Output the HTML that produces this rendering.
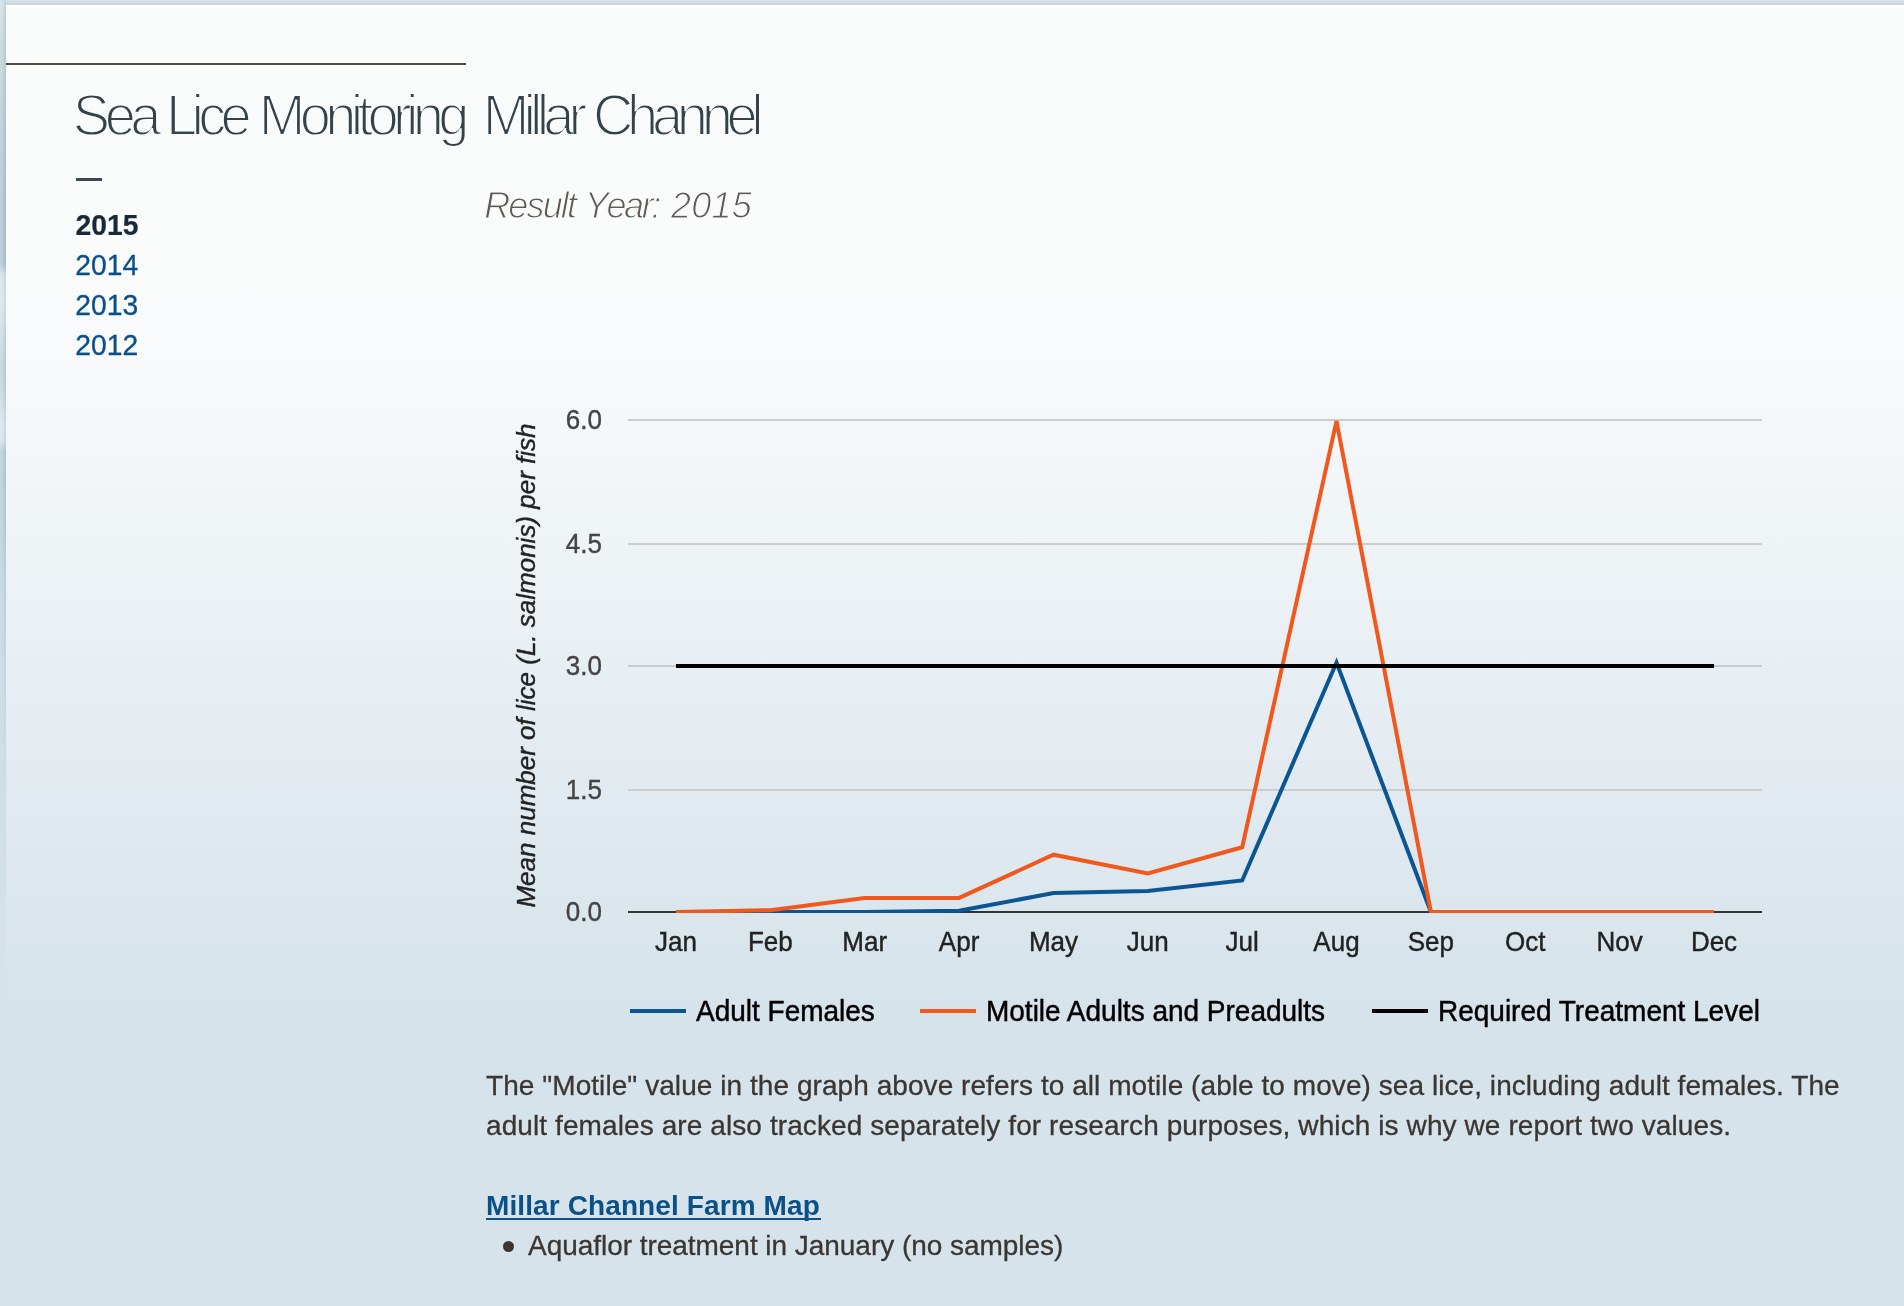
<!DOCTYPE html>
<html>
<head>
<meta charset="utf-8">
<title>Sea Lice Monitoring - Millar Channel</title>
<style>
html,body{margin:0;padding:0;}
body{width:1904px;height:1306px;overflow:hidden;background:#d6e3ea;font-family:"Liberation Sans",sans-serif;position:relative;}
#topbar{position:absolute;left:0;top:0;width:1904px;height:5px;background:linear-gradient(to bottom,#d8e2e8 0px,#d3dfe5 2px,#c8d6dc 4px,#c8d6dc 5px);}
#leftbar{position:absolute;left:0;top:0;width:6px;height:1000px;background:linear-gradient(to bottom,#d3dfe6 0px,#c6d5dd 40px,#bccdd7 100px,#b3c7d2 180px,#b0c5d1 264px,#d3dfe7 274px,#dbe5eb 300px,#cbdae3 335px,#bfd2dd 370px,#c9d9e2 400px,#dbe5ec 425px,#d4e0e8 440px,#b9cedb 452px,#bbcfdb 520px,#c6d8e2 600px,#ccdde5 700px,#d1e0e7 850px,#d6e3ea 975px,#d6e3ea 1000px);}
#leftbar:after{content:"";position:absolute;left:0;top:0;width:6px;height:1000px;background:linear-gradient(to right,rgba(255,255,255,0.22) 0px,rgba(255,255,255,0.05) 3px,rgba(70,110,140,0.13) 6px);-webkit-mask-image:linear-gradient(to bottom,#000 0px,#000 450px,transparent 900px);mask-image:linear-gradient(to bottom,#000 0px,#000 450px,transparent 900px);}
#panel{position:absolute;left:6px;top:5px;width:1898px;height:1301px;background:linear-gradient(to bottom,#ffffff 0px,#ffffff 1.5px,#fafcfb 2.2px,#fafcfb 250px,#f9fafc 330px,#eff4f6 520px,#e3ebf1 760px,#d6e3ea 1000px,#d6e3ea 1301px);}
.abs{position:absolute;white-space:nowrap;}
#rule{left:6px;top:63px;width:460px;height:2px;background:#4e4a44;}
#dash{left:76px;top:177.7px;width:26px;height:2.9px;background:#3d4850;}
h1,h2,p,ul,li{margin:0;padding:0;}
.h1{font-size:56px;line-height:56px;color:#36424a;font-weight:normal;letter-spacing:-4.47px;-webkit-text-stroke:1.9px #fafcfb;transform:scaleY(1.02);transform-origin:0 47.4px;}
.g{display:inline-block;mix-blend-mode:darken;}
#w1{left:72.83px;top:88.3px;letter-spacing:-5.544px;}
#w2{left:165.90px;top:88.3px;letter-spacing:-5.644px;}
#w3{left:258.67px;top:88.3px;letter-spacing:-5.652px;}
#w4{left:482.79px;top:88.3px;letter-spacing:-5.902px;}
#w5{left:592.96px;top:88.3px;letter-spacing:-6.302px;}
.sub{top:186px;font-size:36px;line-height:40px;font-style:italic;color:#5f5a55;letter-spacing:-1.39px;-webkit-text-stroke:1.0px #fafcfb;}
#s1{left:484.2px;letter-spacing:-1.87px;}
#s2{left:584.8px;letter-spacing:-2.39px;}
#s3{left:671.1px;letter-spacing:0.18px;}
.yr{left:75.3px;font-size:28.3px;line-height:40px;color:#0b4f88;-webkit-text-stroke:0.3px #0b4f88;transform:scaleY(1.035);transform-origin:0 29.8px;}
#y15{top:205px;left:75.6px;font-weight:bold;color:#16283a;-webkit-text-stroke:0.2px #16283a;}
#y14{top:245px;}
#y13{top:285px;}
#y12{top:325px;}
#chart{position:absolute;left:0;top:0;}
#para{left:486px;top:1066.2px;font-size:28px;line-height:40px;color:#3b3632;white-space:nowrap;letter-spacing:0.06px;-webkit-text-stroke:0.3px #3b3632;}
#lnk{left:486px;top:1185.8px;font-size:28px;line-height:40px;font-weight:bold;color:#0a5189;letter-spacing:0.11px;}
#lnku{left:486px;top:1218.2px;width:334.5px;height:1.9px;background:#0a5189;}
#bul{left:528px;top:1226px;font-size:28px;line-height:40px;color:#3b3632;letter-spacing:-0.04px;-webkit-text-stroke:0.3px #3b3632;}
#dot{left:503.2px;top:1241px;width:11.2px;height:11.2px;border-radius:6px;background:#3b3632;}
</style>
</head>
<body>
<div id="panel"></div>
<div id="topbar"></div>
<div id="leftbar"></div>
<div id="rule" class="abs"></div>
<div id="w1" class="abs h1"><span class="g">S</span><span class="g">e</span><span class="g">a</span></div>
<div id="w2" class="abs h1"><span class="g">L</span><span class="g">i</span><span class="g">c</span><span class="g">e</span></div>
<div id="w3" class="abs h1"><span class="g">M</span><span class="g">o</span><span class="g">n</span><span class="g">i</span><span class="g">t</span><span class="g">o</span><span class="g">r</span><span class="g">i</span><span class="g">n</span><span class="g">g</span></div>
<div id="w4" class="abs h1"><span class="g">M</span><span class="g">i</span><span class="g">l</span><span class="g">l</span><span class="g">a</span><span class="g">r</span></div>
<div id="w5" class="abs h1"><span class="g">C</span><span class="g">h</span><span class="g">a</span><span class="g">n</span><span class="g">n</span><span class="g">e</span><span class="g">l</span></div>
<div id="dash" class="abs"></div>
<div id="s1" class="abs sub"><span class="g">R</span><span class="g">e</span><span class="g">s</span><span class="g">u</span><span class="g">l</span><span class="g">t</span></div>
<div id="s2" class="abs sub"><span class="g">Y</span><span class="g">e</span><span class="g">a</span><span class="g">r</span><span class="g">:</span></div>
<div id="s3" class="abs sub"><span class="g">2</span><span class="g">0</span><span class="g">1</span><span class="g">5</span></div>
<div id="y15" class="abs yr">2015</div>
<div id="y14" class="abs yr">2014</div>
<div id="y13" class="abs yr">2013</div>
<div id="y12" class="abs yr">2012</div>

<svg id="chart" width="1904" height="1306" viewBox="0 0 1904 1306" font-family="Liberation Sans, sans-serif">
  <defs><clipPath id="cp"><rect x="628" y="414" width="1134" height="499"/></clipPath></defs>
  <g stroke="#cccccc" stroke-width="2">
    <line x1="628" y1="420" x2="1762" y2="420"/>
    <line x1="628" y1="544" x2="1762" y2="544"/>
    <line x1="628" y1="666" x2="1762" y2="666"/>
    <line x1="628" y1="790" x2="1762" y2="790"/>
  </g>
  <line x1="628" y1="912" x2="1762" y2="912" stroke="#333333" stroke-width="2"/>
  <g clip-path="url(#cp)" fill="none" stroke-width="4">
    <polyline id="blue" stroke="#0a5592" points="676,912 770.4,912 864.7,912 959.1,910.8 1053.5,893.1 1147.8,891.1 1242.2,880.5 1336.5,662.5 1430.9,912 1525.3,912 1619.6,912 1714,912"/>
    <polyline id="orange" stroke="#f0581e" points="676,912 770.4,910.2 864.7,897.9 959.1,897.9 1053.5,854.7 1147.8,873.5 1242.2,847.3 1336.5,421.1 1430.9,912 1525.3,912 1619.6,912 1714,912"/>
    <line x1="676" y1="666" x2="1714" y2="666" stroke="#000000"/>
  </g>
  <g font-size="26" fill="#444444" stroke="#444444" stroke-width="0.35" text-anchor="end">
    <text transform="translate(602,429) scale(1,1.06)">6.0</text>
    <text transform="translate(602,553) scale(1,1.06)">4.5</text>
    <text transform="translate(602,675) scale(1,1.06)">3.0</text>
    <text transform="translate(602,799) scale(1,1.06)">1.5</text>
    <text transform="translate(602,921) scale(1,1.06)">0.0</text>
  </g>
  <g font-size="26" fill="#222222" stroke="#222222" stroke-width="0.4" text-anchor="middle" transform="translate(0,951) scale(1,1.045) translate(0,-951)">
    <text x="676" y="951">Jan</text>
    <text x="770.4" y="951">Feb</text>
    <text x="864.7" y="951">Mar</text>
    <text x="959.1" y="951">Apr</text>
    <text x="1053.5" y="951">May</text>
    <text x="1147.8" y="951">Jun</text>
    <text x="1242.2" y="951">Jul</text>
    <text x="1336.5" y="951">Aug</text>
    <text x="1430.9" y="951">Sep</text>
    <text x="1525.3" y="951">Oct</text>
    <text x="1619.6" y="951">Nov</text>
    <text x="1714" y="951">Dec</text>
  </g>
  <text id="ytitle" font-size="26" font-style="italic" fill="#222222" stroke="#222222" stroke-width="0.4" text-anchor="middle" transform="translate(535,665.5) rotate(-90)">Mean number of lice (L. salmonis) per fish</text>
  <g stroke-width="4">
    <line x1="630" y1="1011" x2="686" y2="1011" stroke="#0a5592"/>
    <line x1="920" y1="1011" x2="976" y2="1011" stroke="#f0581e"/>
    <line x1="1372" y1="1011" x2="1428" y2="1011" stroke="#000000"/>
  </g>
  <g font-size="28" fill="#000000" stroke="#000000" stroke-width="0.45" transform="translate(0,1021) scale(1,1.04) translate(0,-1021)">
    <text x="696" y="1021">Adult Females</text>
    <text x="986" y="1021">Motile Adults and Preadults</text>
    <text x="1438" y="1021">Required Treatment Level</text>
  </g>
</svg>

<div id="para" class="abs">The "Motile" value in the graph above refers to all motile (able to move) sea lice, including adult females. The<br><span style="letter-spacing:0.095px">adult females are also tracked separately for research purposes, which is why we report two values.</span></div>
<div id="lnk" class="abs">Millar Channel Farm Map</div>
<div id="lnku" class="abs"></div>
<div id="dot" class="abs"></div>
<div id="bul" class="abs">Aquaflor treatment in January (no samples)</div>
</body>
</html>
